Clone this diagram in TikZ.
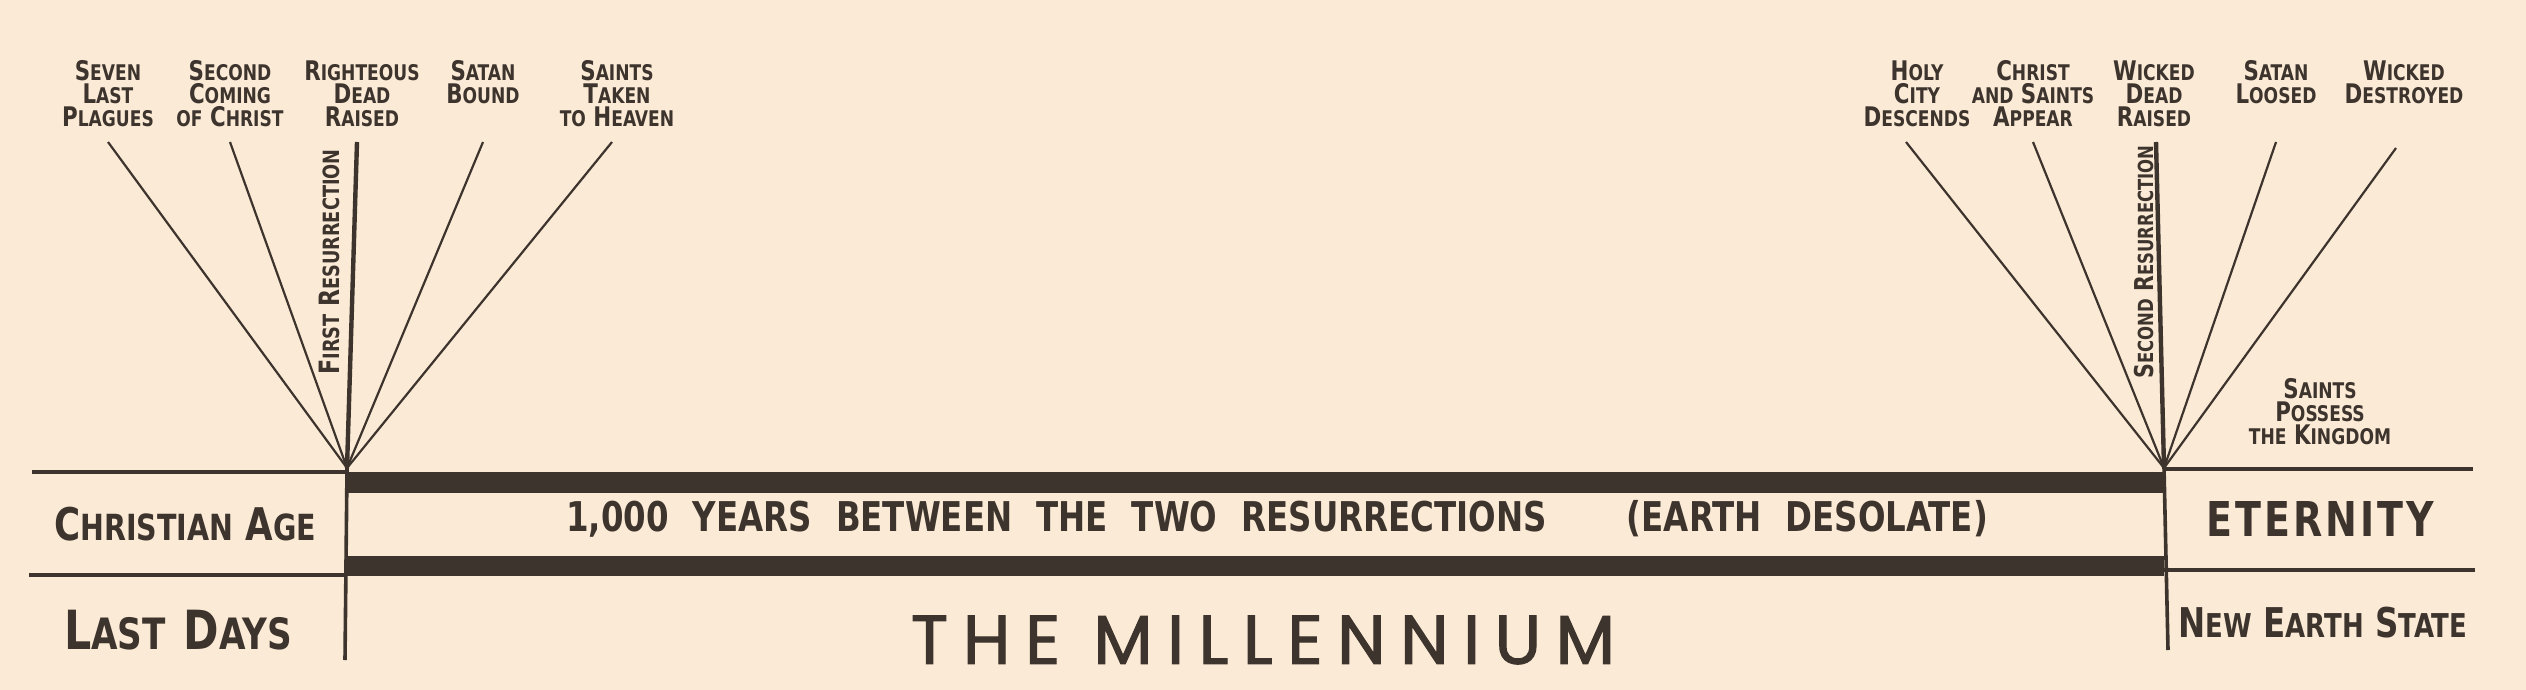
\documentclass[tikz,border=0pt]{standalone}
\usepackage{fontspec}
\setmainfont{DejaVu Sans Condensed Bold}[FakeStretch = 0.88]
\newfontfamily\lowfont{DejaVu Sans Condensed Bold}[Scale = 0.8, FakeStretch = 0.88]
\newfontfamily\millfont{Poppins}[LetterSpace = 21, FakeBold = 1.6]
\newcommand{\lo}[1]{{\lowfont #1}}
\usetikzlibrary{positioning}
\definecolor{paper}{RGB}{251,235,214}
\definecolor{ink}{RGB}{62,52,46}
\tikzset {
    event/.style = {align = center, inner sep = 0pt, anchor = north, text = ink,
        font = \fontsize{13.5pt}{11.5pt}\selectfont},
    sideways/.style = {inner sep = 0pt, rotate = 90, text = ink,
        font = \fontsize{13pt}{13pt}\selectfont},
    era/.style = {inner sep = 0pt, text = ink, font = \fontsize{22.5pt}{22.5pt}\selectfont},
    fan/.style = {draw = ink, line width = 1.1pt},
    rise/.style = {draw = ink, line width = 2.2pt},
    rule/.style = {draw = ink, line width = 1.8pt},
    band/.style = {fill = ink}
}
\begin{document}
\begin{tikzpicture}[x = 0.5pt, y = -0.5pt]
    \fill [paper] (0, 0) rectangle (2526, 690);
    \useasboundingbox (0, 0) rectangle (2526, 690);
    % the two ends of the millennium
    \coordinate (vl) at (347, 468);
    \coordinate (vr) at (2164, 468);
    % events before
    \node (plagues) [event] at (108, 60) {S\lo{EVEN}\\L\lo{AST}\\P\lo{LAGUES}};
    \node (coming) [event] at (230, 60) {S\lo{ECOND}\\C\lo{OMING}\\\lo{OF} C\lo{HRIST}};
    \node (raised) [event] at (362, 60) {R\lo{IGHTEOUS}\\D\lo{EAD}\\R\lo{AISED}};
    \node (bound) [event] at (483, 60) {S\lo{ATAN}\\B\lo{OUND}};
    \node (taken) [event] at (617, 60) {S\lo{AINTS}\\T\lo{AKEN}\\\lo{TO} H\lo{EAVEN}};
    % events after
    \node (descends) [event] at (1917, 60) {H\lo{OLY}\\C\lo{ITY}\\D\lo{ESCENDS}};
    \node (appear) [event] at (2033, 60) {C\lo{HRIST}\\\lo{AND} S\lo{AINTS}\\A\lo{PPEAR}};
    \node (wicked) [event] at (2154, 60) {W\lo{ICKED}\\D\lo{EAD}\\R\lo{AISED}};
    \node (loosed) [event] at (2276, 60) {S\lo{ATAN}\\L\lo{OOSED}};
    \node (destroyed) [event] at (2404, 60) {W\lo{ICKED}\\D\lo{ESTROYED}};
    \node (possess) [event] at (2320, 378) {S\lo{AINTS}\\P\lo{OSSESS}\\\lo{THE} K\lo{INGDOM}};
    % tips of the rays
    \coordinate (plagues tip) at (108, 142);
    \coordinate (coming tip) at (230, 142);
    \coordinate (raised tip) at (357, 142);
    \coordinate (bound tip) at (483, 142);
    \coordinate (taken tip) at (612, 142);
    \coordinate (descends tip) at (1906, 142);
    \coordinate (appear tip) at (2033, 142);
    \coordinate (wicked tip) at (2156, 142);
    \coordinate (loosed tip) at (2276, 142);
    \coordinate (destroyed tip) at (2396, 148);
    \foreach \e in {plagues, coming, bound, taken}
        \draw [fan] (vl) -- (\e\space tip);
    \foreach \e in {descends, appear, loosed, destroyed}
        \draw [fan] (vr) -- (\e\space tip);
    \draw [rise] (vl) -- (raised tip);
    \draw [rise] (vr) -- (wicked tip);
    \node (first) [sideways, font = \fontsize{14pt}{14pt}\selectfont] at (329, 262) {F\lo{IRST} R\lo{ESURRECTION}};
    \node (second) [sideways] at (2144, 262) {S\lo{ECOND} R\lo{ESURRECTION}};
    % the bands
    \fill [band] (vl |- 0, 472) rectangle (vr |- 0, 493);
    \fill [band] (vl |- 0, 556) rectangle (vr |- 0, 576);
    \coordinate (ul) at (32, 472);
    \coordinate (ll) at (29, 575);
    \coordinate (ur) at (2473, 469);
    \coordinate (lr) at (2475, 570);
    \coordinate (vl foot) at (345, 660);
    \coordinate (vr foot) at (2168, 650);
    \draw [rule] (ul) -- (ul -| vl);
    \draw [rule] (ll) -- (ll -| vl);
    \draw [rule] (vr |- ur) -- (ur);
    \draw [rule] (vr |- lr) -- (lr);
    \draw [rule] (vl) -- (vl foot);
    \draw [rule] (vr) -- (vr foot);
    % names of the ages
    \node (christian) [era] at (185, 524) {C\lo{HRISTIAN} A\lo{GE}};
    \node (last) [era, font = \fontsize{27pt}{27pt}\selectfont] at (178, 630) {L\lo{AST}\hspace{9pt}D\lo{AYS}};
    \node (years) [era, font = \fontsize{20.5pt}{20.5pt}\selectfont] at (1277, 519)
        {1,000\hspace{12pt}YEARS\hspace{12pt}BETWEEN\hspace{12pt}THE\hspace{12pt}TWO\hspace{12pt}RESURRECTIONS\hspace{40pt}(EARTH\hspace{12pt}DESOLATE)};
    \node (eternity) [era, font = \fontsize{24pt}{24pt}\selectfont] at (2320, 519) {E\kern1.5pt T\kern1.5pt E\kern1.5pt R\kern1.5pt N\kern1.5pt I\kern1.5pt T\kern1.5pt Y};
    \node (newearth) [era, font = \fontsize{20.5pt}{20.5pt}\selectfont] at (2323, 623) {N\lo{EW} E\lo{ARTH} S\lo{TATE}};
    \node (millennium) [era, font = \millfont\fontsize{34.5pt}{34.5pt}\selectfont] at (1263, 640) {THE MILLENNIUM};
\end{tikzpicture}
\end{document}
